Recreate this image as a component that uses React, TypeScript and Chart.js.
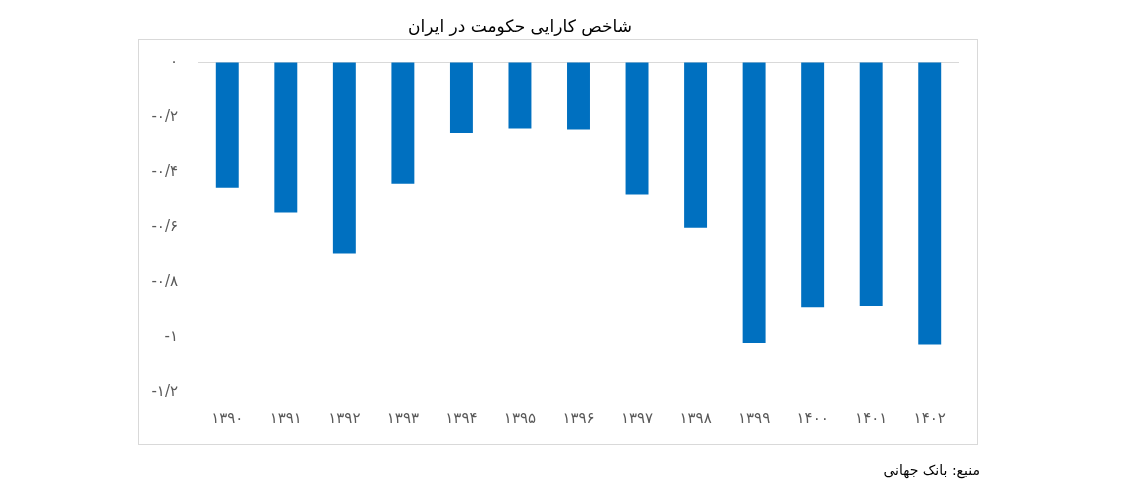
import React, { useEffect, useRef } from "react";
import { Chart, registerables } from "chart.js";

Chart.register(...registerables);

const categories: string[] = [
  "۱۳۹۰", "۱۳۹۱", "۱۳۹۲", "۱۳۹۳", "۱۳۹۴", "۱۳۹۵", "۱۳۹۶",
  "۱۳۹۷", "۱۳۹۸", "۱۳۹۹", "۱۴۰۰", "۱۴۰۱", "۱۴۰۲",
];
const values: number[] = [
  -0.457, -0.547, -0.696, -0.443, -0.258, -0.242, -0.245,
  -0.482, -0.603, -1.022, -0.892, -0.887, -1.027,
];
const yMin = -1.2;
const yMax = 0;
const yStep = 0.2;

const titleText = "شاخص کارایی حکومت در ایران";
const sourceText = "منبع: بانک جهانی";

const persianDigits = ["۰", "۱", "۲", "۳", "۴", "۵", "۶", "۷", "۸", "۹"];
function toPersian(v: number): string {
  const s = String(Number(v.toFixed(1)));
  return s
    .replace(/[0-9]/g, (d) => persianDigits[Number(d)])
    .replace(".", "/");
}

export default function App() {
  const ref = useRef<HTMLCanvasElement | null>(null);

  useEffect(() => {
    if (!ref.current) return;
    const chart = new Chart(ref.current, {
      type: "bar",
      data: {
        labels: categories,
        datasets: [
          {
            data: values,
            backgroundColor: "#0070C0",
            borderWidth: 0,
            categoryPercentage: 0.8,
            barPercentage: 0.49,
          },
        ],
      },
      options: {
        responsive: false,
        animation: false,
        devicePixelRatio: 1,
        layout: { padding: { left: 138, right: 167, top: 62, bottom: 69 } },
        plugins: {
          legend: { display: false },
          tooltip: { enabled: false },
          title: { display: false },
        },
        scales: {
          x: {
            grid: { display: false, drawTicks: false },
            border: { display: false },
            ticks: {
              color: "#595959",
              font: { family: "DejaVu Sans", size: 15 },
              padding: 18,
              maxRotation: 0,
            },
            afterFit: (scale: any) => {
              scale.height = 40;
            },
          },
          y: {
            min: yMin,
            max: yMax,
            grid: {
              drawTicks: false,
              color: (ctx: any) =>
                ctx.tick && Math.abs(ctx.tick.value) < 1e-9 ? "#d9d9d9" : "rgba(0,0,0,0)",
              lineWidth: 1,
            },
            border: { display: false },
            ticks: {
              stepSize: yStep,
              color: "#595959",
              font: { family: "DejaVu Sans", size: 15 },
              padding: 20,
              callback: (v: any) => toPersian(Number(v)),
            },
            afterFit: (scale: any) => {
              scale.width = 60;
            },
          },
        },
      },
    });
    return () => chart.destroy();
  }, []);

  return (
    <div
      style={{
        position: "absolute",
        left: 0,
        top: 0,
        width: 1126,
        height: 501,
        background: "#ffffff",
        overflow: "hidden",
      }}
    >
      <div
        style={{
          position: "absolute",
          left: 138,
          top: 39,
          width: 840,
          height: 406,
          border: "1px solid #d9d9d9",
          boxSizing: "border-box",
        }}
      />
      <canvas
        ref={ref}
        width={1126}
        height={501}
        style={{ position: "absolute", left: 0, top: 0, width: 1126, height: 501 }}
      />
      <div
        dir="rtl"
        style={{
          position: "absolute",
          left: 320,
          width: 400,
          top: 12,
          textAlign: "center",
          fontFamily: "DejaVu Sans",
          fontSize: 17,
          color: "#000",
          lineHeight: "28px",
        }}
      >
        {titleText}
      </div>
      <div
        dir="rtl"
        style={{
          position: "absolute",
          right: 1126 - 980,
          top: 458,
          fontFamily: "DejaVu Sans",
          fontSize: 14,
          color: "#000",
          lineHeight: "24px",
          whiteSpace: "nowrap",
        }}
      >
        {sourceText}
      </div>
    </div>
  );
}
